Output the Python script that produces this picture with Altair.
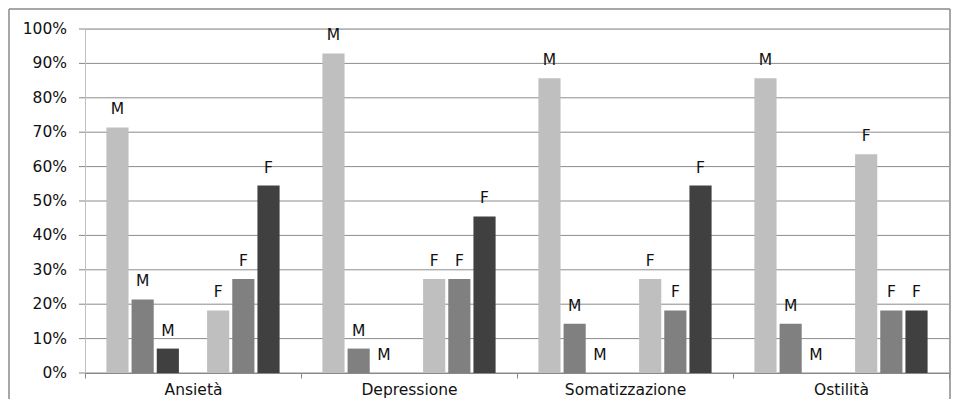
import altair as alt
import pandas as pd

categories = ["Ansietà", "Depressione", "Somatizzazione", "Ostilità"]
slots = ["M1", "M2", "M3", "F1", "F2", "F3"]
slot_domain = ["M1", "M2", "M3", "gap", "F1", "F2", "F3"]
labels = ["M", "M", "M", "F", "F", "F"]
values = {
    "Ansietà":        [71.4, 21.4, 7.1, 18.2, 27.3, 54.5],
    "Depressione":    [92.9, 7.1, 0.0, 27.3, 27.3, 45.5],
    "Somatizzazione": [85.7, 14.3, 0.0, 27.3, 18.2, 54.5],
    "Ostilità":       [85.7, 14.3, 0.0, 63.6, 18.2, 18.2],
}
slot_colors = ["#bfbfbf", "#808080", "#404040", "#ffffff", "#bfbfbf", "#808080", "#404040"]
y_ticks = [0, 10, 20, 30, 40, 50, 60, 70, 80, 90, 100]
y_tick_labels = ["0%", "10%", "20%", "30%", "40%", "50%", "60%", "70%", "80%", "90%", "100%"]

rows = []
for c in categories:
    for s, l, v in zip(slots, labels, values[c]):
        rows.append({"cat": c, "slot": s, "lab": l, "val": v})
df = pd.DataFrame(rows)
grid_df = pd.DataFrame({"g": y_ticks, "t": y_tick_labels})
dom_df = pd.DataFrame({"y0": [y_ticks[0]], "y1": [y_ticks[-1]]})

FONT = "DejaVu Sans"
FS = 15.5
W, H = 864, 344
yscale = alt.Scale(domain=[0, 100], nice=False)

x = alt.X("cat:N", sort=categories, title=None,
          scale=alt.Scale(paddingInner=0, paddingOuter=0),
          axis=alt.Axis(tickBand="extent", labelAngle=0, labelFontSize=FS,
                        labelFont=FONT, labelColor="#111111", domainColor="#868686",
                        tickColor="#868686", tickSize=5, labelPadding=4, grid=False))
xo = alt.XOffset("slot:N", scale=alt.Scale(domain=slot_domain, paddingInner=0.12, paddingOuter=0.85))

grid = alt.Chart(grid_df).mark_rule(color="#8c8c8c", strokeWidth=1).encode(
    y=alt.Y("g:Q", scale=yscale, axis=None)
)
yticks = alt.Chart(grid_df).mark_rule(color="#868686", strokeWidth=1).encode(
    y=alt.Y("g:Q", scale=yscale, axis=None), x=alt.value(-6), x2=alt.value(0)
)
ylabels = alt.Chart(grid_df).mark_text(align="right", baseline="middle", fontSize=FS,
                                       font=FONT, color="#111111").encode(
    y=alt.Y("g:Q", scale=yscale, axis=None), x=alt.value(-18), text="t:N"
)
ydomain = alt.Chart(dom_df).mark_rule(color="#bfbfbf", strokeWidth=1).encode(
    x=alt.value(0.5), y=alt.Y("y0:Q", scale=yscale, axis=None), y2="y1:Q"
)
bars = alt.Chart(df).mark_bar(stroke=None).encode(
    x=x, xOffset=xo,
    y=alt.Y("val:Q", scale=yscale, axis=None),
    color=alt.Color("slot:N", scale=alt.Scale(domain=slot_domain, range=slot_colors), legend=None),
)
text = alt.Chart(df).mark_text(baseline="alphabetic", dy=-13, fontSize=FS, font=FONT,
                               color="#111111").encode(
    x=alt.X("cat:N", sort=categories), xOffset="slot:N",
    y=alt.Y("val:Q", scale=yscale, axis=None), text="lab:N"
)

one = pd.DataFrame({"a": [0]})
frame_left = alt.Chart(one).mark_rule(color="#8a8a8a", strokeWidth=1.5).encode(
    x=alt.value(-76), y=alt.value(-20), y2=alt.value(H + 40))
frame_top = alt.Chart(one).mark_rule(color="#8a8a8a", strokeWidth=1.5).encode(
    x=alt.value(-76), x2=alt.value(865), y=alt.value(-20))
frame_right = alt.Chart(one).mark_rule(color="#8a8a8a", strokeWidth=1.5).encode(
    x=alt.value(865), y=alt.value(-20), y2=alt.value(H + 40))

chart = alt.layer(grid, yticks, ylabels, ydomain, bars, text,
                  frame_left, frame_top, frame_right).properties(
    width=W, height=H,
    autosize=alt.AutoSizeParams(type="none"),
    padding={"left": 77, "top": 21, "right": 2, "bottom": 26},
).configure_view(stroke=None).configure(background="white")

chart.save("out.html", embed_options={"renderer": "svg", "actions": False})
